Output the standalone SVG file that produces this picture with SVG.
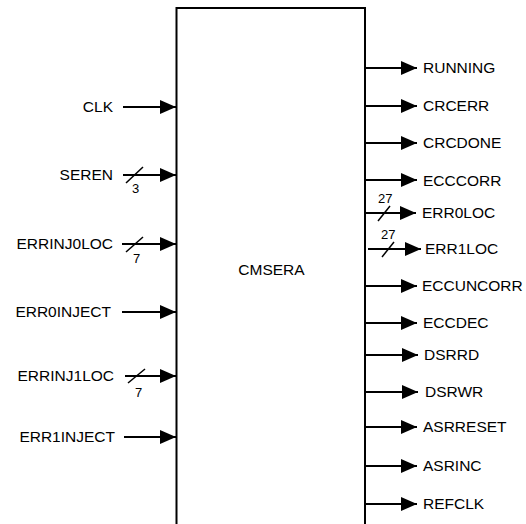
<svg xmlns="http://www.w3.org/2000/svg" width="526" height="524" viewBox="0 0 526 524">
<defs>
<marker id="ah" markerUnits="userSpaceOnUse" markerWidth="17" markerHeight="14" refX="16" refY="7" orient="auto">
<path d="M0,0 L16,7 L0,14 Z" fill="#000"/>
</marker>
</defs>
<style>
text{font-family:"Liberation Sans",Arial,sans-serif;font-size:15.5px;fill:#000}
.in{text-anchor:end}
.n{font-size:13px}
.c line{stroke:#000;stroke-width:2;marker-end:url(#ah)}
.s{stroke:#000;stroke-width:1.5}
</style>
<rect width="526" height="524" fill="#fff"/>
<g id="cmsera">
<rect x="176.5" y="8" width="188.5" height="530" fill="#fff" stroke="#000" stroke-width="2"/>
<text x="271.5" y="275" text-anchor="middle">CMSERA</text>
</g>
<g class="c" id="connectors">
<line x1="123" y1="107" x2="176" y2="107"/>
<line x1="123" y1="175" x2="176" y2="175"/>
<line x1="122" y1="244" x2="176" y2="244"/>
<line x1="122" y1="312" x2="176" y2="312"/>
<line x1="125" y1="376" x2="176" y2="376"/>
<line x1="124" y1="437" x2="176" y2="437"/>
<line x1="365" y1="68" x2="417" y2="68"/>
<line x1="365" y1="106" x2="417" y2="106"/>
<line x1="365" y1="143" x2="417" y2="143"/>
<line x1="365" y1="180" x2="417" y2="180"/>
<line x1="365" y1="213" x2="416" y2="213"/>
<line x1="368" y1="249" x2="421" y2="249"/>
<line x1="365" y1="286" x2="417" y2="286"/>
<line x1="365" y1="323" x2="417" y2="323"/>
<line x1="365" y1="355" x2="418" y2="355"/>
<line x1="365" y1="392" x2="418" y2="392"/>
<line x1="365" y1="427" x2="417" y2="427"/>
<line x1="365" y1="466" x2="417" y2="466"/>
<line x1="365" y1="504" x2="417" y2="504"/>
</g>
<g id="buses">
<line class="s" x1="126" y1="183" x2="143" y2="167"/>
<text class="n" x="132" y="193">3</text>
<line class="s" x1="126" y1="252" x2="143" y2="237"/>
<text class="n" x="133" y="263">7</text>
<line class="s" x1="128" y1="383" x2="145" y2="369"/>
<text class="n" x="135" y="397">7</text>
<line class="s" x1="378" y1="221" x2="390" y2="206"/>
<text class="n" x="378" y="203">27</text>
<line class="s" x1="382" y1="257" x2="394" y2="242"/>
<text class="n" x="381" y="239">27</text>
</g>
<g id="inputs">
<text class="in" x="113" y="112">CLK</text>
<text class="in" x="113" y="180">SEREN</text>
<text class="in" x="113" y="249">ERRINJ0LOC</text>
<text class="in" x="111" y="317">ERR0INJECT</text>
<text class="in" x="114" y="381">ERRINJ1LOC</text>
<text class="in" x="115" y="442">ERR1INJECT</text>
</g>
<g id="outputs">
<text x="423" y="73">RUNNING</text>
<text x="423" y="111">CRCERR</text>
<text x="423" y="148">CRCDONE</text>
<text x="423" y="186">ECCCORR</text>
<text x="422" y="218">ERR0LOC</text>
<text x="425" y="254">ERR1LOC</text>
<text x="422" y="291">ECCUNCORR</text>
<text x="423" y="328">ECCDEC</text>
<text x="424" y="360">DSRRD</text>
<text x="425" y="397">DSRWR</text>
<text x="423" y="432">ASRRESET</text>
<text x="423" y="471">ASRINC</text>
<text x="423" y="509">REFCLK</text>
</g>
</svg>
